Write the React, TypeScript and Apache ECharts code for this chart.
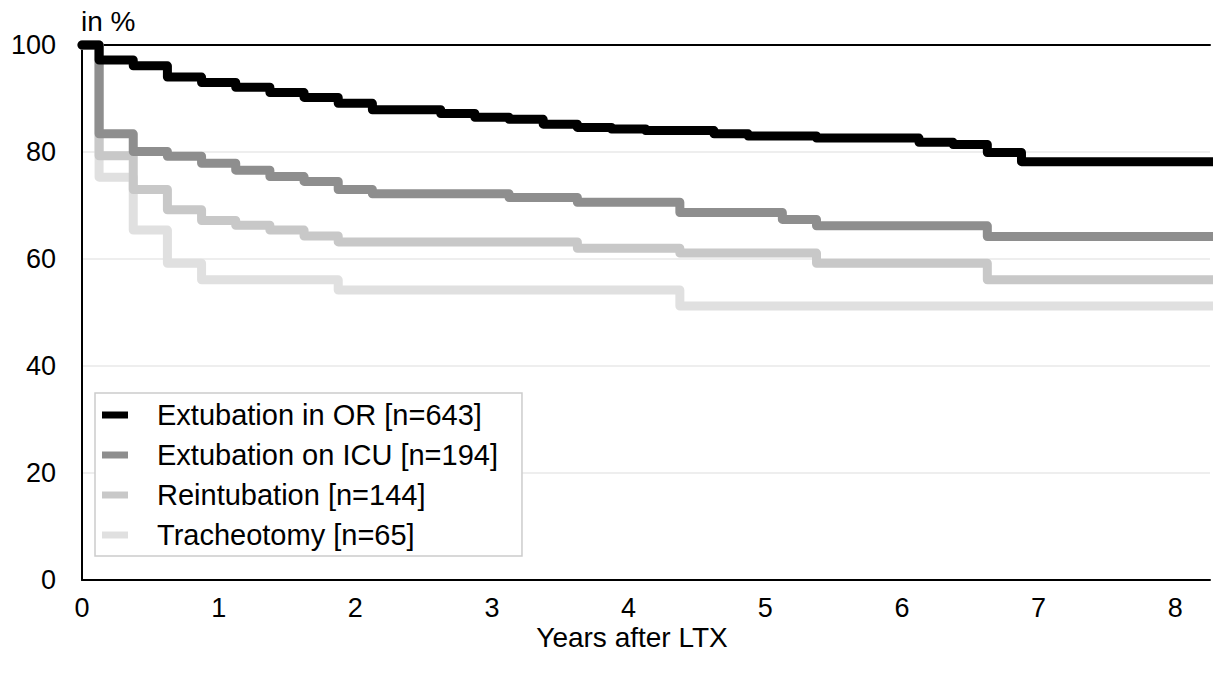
import React, { useEffect, useRef } from "react";
import * as echarts from "echarts";

// Kaplan-Meier step points: time (years) and survival (%)
const orTimes = [0, 0.125, 0.375, 0.625, 0.875, 1.125, 1.375, 1.625, 1.875, 2.125, 2.625, 2.875, 3.125, 3.375, 3.625, 3.875, 4.125, 4.625, 4.875, 5.375, 6.125, 6.375, 6.625, 6.875, 8.3];
const orValues = [100, 97.2, 96.1, 94.0, 93.0, 92.1, 91.1, 90.2, 89.1, 87.9, 87.2, 86.5, 86.1, 85.2, 84.6, 84.3, 84.0, 83.4, 83.0, 82.6, 81.8, 81.4, 79.9, 78.2, 78.2];

const icuTimes = [0, 0.125, 0.375, 0.625, 0.875, 1.125, 1.375, 1.625, 1.875, 2.125, 3.125, 3.625, 4.375, 5.125, 5.375, 6.625, 8.3];
const icuValues = [100, 83.4, 80.1, 79.2, 77.9, 76.6, 75.4, 74.5, 73.0, 72.2, 71.5, 70.6, 68.7, 67.4, 66.2, 64.2, 64.2];

const reiTimes = [0, 0.125, 0.375, 0.625, 0.875, 1.125, 1.375, 1.625, 1.875, 3.625, 4.375, 5.375, 6.625, 8.3];
const reiValues = [100, 79.3, 73.0, 69.2, 67.2, 66.3, 65.4, 64.3, 63.2, 62.0, 61.1, 59.2, 56.1, 56.1];

const traTimes = [0, 0.125, 0.375, 0.625, 0.875, 1.875, 4.375, 8.3];
const traValues = [100, 75.3, 65.4, 59.2, 56.1, 54.2, 51.2, 51.2];

const seriesNames = [
  "Extubation in OR [n=643]",
  "Extubation on ICU [n=194]",
  "Reintubation [n=144]",
  "Tracheotomy [n=65]",
];
const seriesColors = ["#000000", "#8e8e8e", "#c8c8c8", "#e0e0e0"];
const yTicks = [0, 20, 40, 60, 80, 100];
const xTicks = [0, 1, 2, 3, 4, 5, 6, 7, 8];

const zip = (t: number[], v: number[]) => t.map((x, i) => [x, v[i]]);

export default function App() {
  const ref = useRef<HTMLDivElement>(null);
  useEffect(() => {
    if (!ref.current) return;
    const chart = echarts.init(ref.current, null, { renderer: "svg" });
    const font = "'Liberation Sans', Arial, sans-serif";
    const fs = 27;
    const datasets = [
      zip(orTimes, orValues),
      zip(icuTimes, icuValues),
      zip(reiTimes, reiValues),
      zip(traTimes, traValues),
    ];
    const plotW = 1135;
    const xMax = plotW / 137.5;
    chart.setOption({
      animation: false,
      backgroundColor: "#ffffff",
      textStyle: { fontFamily: font },
      grid: { left: 82, top: 45, width: plotW, height: 535, containLabel: false },
      xAxis: [
        {
          type: "value",
          min: 0,
          max: xMax,
          interval: 1,
          axisLine: { show: true, onZero: false, lineStyle: { color: "#000", width: 2 } },
          axisTick: { show: false },
          splitLine: { show: false },
          axisLabel: {
            color: "#000",
            fontSize: fs,
            fontFamily: font,
            margin: 14,
            formatter: (v: number) => (xTicks.includes(v) ? String(v) : ""),
          },
        },
        {
          type: "value",
          position: "top",
          min: 0,
          max: xMax,
          interval: 1,
          axisLine: { show: true, onZero: false, lineStyle: { color: "#000", width: 2 } },
          axisTick: { show: false },
          axisLabel: { show: false },
          splitLine: { show: false },
        },
      ],
      yAxis: {
        type: "value",
        min: 0,
        max: 100,
        interval: 20,
        name: "in %",
        nameLocation: "end",
        nameGap: 10,
        nameTextStyle: { color: "#000", fontSize: 28, fontFamily: font, align: "left", padding: [0, 0, 0, -1] },
        axisLine: { show: true, lineStyle: { color: "#000", width: 2 } },
        axisTick: { show: false },
        axisLabel: {
          color: "#000",
          fontSize: fs,
          fontFamily: font,
          margin: 26,
          formatter: (v: number) => (yTicks.includes(v) ? String(v) : ""),
        },
        splitLine: { show: true, lineStyle: { color: "#e8e8e8", width: 1.5 } },
      },
      legend: {
        orient: "vertical",
        left: 95,
        top: 393,
        data: seriesNames.map((n) => ({ name: n, icon: "rect" })),
        itemWidth: 26,
        itemHeight: 7,
        itemGap: 10,
        padding: [7, 24, 6, 7],
        backgroundColor: "#ffffff",
        borderColor: "#cccccc",
        borderWidth: 1.5,
        borderRadius: 0,
        textStyle: {
          color: "#000",
          fontSize: 29,
          fontFamily: font,
          lineHeight: 30,
          padding: [0, 0, 0, 24],
        },
        z: 10,
      },
      graphic: [
        {
          type: "text",
          x: 632,
          y: 637,
          style: {
            text: "Years after LTX",
            fill: "#000",
            fontSize: 28,
            fontFamily: font,
            textAlign: "center",
            textVerticalAlign: "middle",
            verticalAlign: "middle",
          },
        },
      ],
      series: seriesNames.map((name, i) => ({
        name,
        type: "line",
        step: "end",
        data: datasets[i],
        showSymbol: false,
        symbol: "none",
        clip: false,
        z: 8 - i,
        color: seriesColors[i],
        lineStyle: { color: seriesColors[i], width: 9, cap: "round", join: "round" },
        itemStyle: { color: seriesColors[i] },
      })),
    });
    return () => chart.dispose();
  }, []);
  return (
    <div
      ref={ref}
      style={{ position: "fixed", left: 0, top: 0, width: 1213, height: 679, background: "#fff" }}
    />
  );
}
